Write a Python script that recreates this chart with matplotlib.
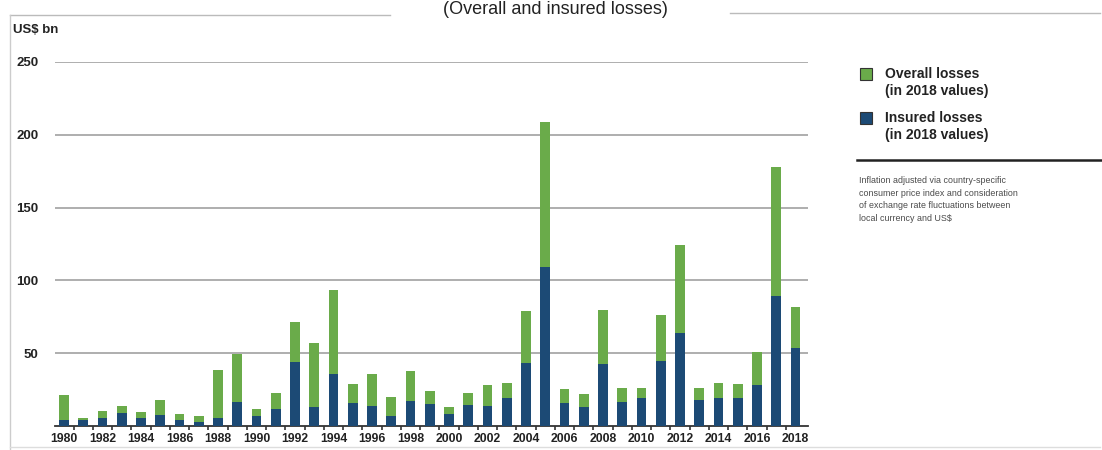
import matplotlib
matplotlib.use("Agg")
import matplotlib.pyplot as plt
from matplotlib.lines import Line2D
from matplotlib.patches import Rectangle

# Data (US$ bn, 2018 values)
years = list(range(1980, 2019))
overall_losses = [21, 5.5, 10, 14, 9.5, 18, 8, 7, 38.5, 49.5,
                  12, 23, 71.5, 57, 93.5, 29, 36, 20, 37.5, 24,
                  13, 23, 28.5, 29.5, 79, 209, 25.5, 22, 80, 26,
                  26, 76, 124, 26, 29.5, 29, 51, 178, 82]
insured_losses = [4, 4, 5.5, 9, 5.5, 7.5, 4, 3, 5.5, 16.5,
                  7, 12, 44, 13, 36, 16, 14, 7, 17, 15,
                  8, 14.5, 13.5, 19.5, 43.5, 109, 15.5, 13, 42.5, 16.5,
                  19, 44.5, 64, 18, 19.5, 19, 28.5, 89.5, 53.5]
y_ticks = [50, 100, 150, 200, 250]

green = "#6aab4a"
blue = "#1c4a75"

plt.rcParams['font.family'] = ['Liberation Sans', 'DejaVu Sans']

fig = plt.figure(figsize=(11.02, 4.5), dpi=100)
ax = fig.add_axes([55 / 1102, 24 / 450, 753 / 1102, 364 / 450])

x = list(range(len(years)))
ax.bar(x, overall_losses, width=0.5, color=green, zorder=3)
ax.bar(x, insured_losses, width=0.5, color=blue, zorder=4)

ax.set_xlim(-0.47, 38.65)
ax.set_ylim(0, 250)
ax.set_yticks(y_ticks)
ax.set_yticklabels([str(t) for t in y_ticks], fontsize=9.5, fontweight='bold', color='#222222')
for t in y_ticks:
    ax.axhline(t, color='#a8a8a8', lw=1.3, zorder=1)

ax.set_xticks(x[::2])
ax.set_xticklabels([str(y) for y in years[::2]], fontsize=8.8, fontweight='bold', color='#222222')
ax.set_xticks([i + 0.5 for i in x[:-1]], minor=True)
ax.tick_params(axis='x', which='major', length=0, pad=5)
ax.tick_params(axis='x', which='minor', length=3, width=1.2, color='#333333', direction='out')
ax.tick_params(axis='y', length=0, pad=12)
for s in ['top', 'right', 'left']:
    ax.spines[s].set_visible(False)
ax.spines['bottom'].set_color('#333333')
ax.spines['bottom'].set_linewidth(1.3)
ax.patch.set_alpha(0)

# unit label and title
fig.text(13 / 1102, 1 - 30 / 450, "US$ bn", fontsize=9.5, fontweight='bold', va='center', color='#222222')
fig.text(555 / 1102, 1 - 1 / 450, "(Overall and insured losses)", fontsize=13, ha='center', va='top', color='#222222')

# thin frame from the scanned page
fig.add_artist(Line2D([10 / 1102, 390 / 1102], [1 - 15 / 450] * 2, color='#bbbbbb', lw=1))
fig.add_artist(Line2D([730 / 1102, 1100 / 1102], [1 - 13 / 450] * 2, color='#bbbbbb', lw=1))
fig.add_artist(Line2D([10 / 1102] * 2, [1 - 15 / 450, 0], color='#cccccc', lw=1))
fig.add_artist(Line2D([10 / 1102, 1100 / 1102], [3 / 450] * 2, color='#dddddd', lw=1))

# legend
for ypx, col, lab in [(74, green, "Overall losses\n(in 2018 values)"),
                      (118, blue, "Insured losses\n(in 2018 values)")]:
    fig.add_artist(Rectangle((860 / 1102, 1 - (ypx + 6) / 450), 12 / 1102, 12 / 450,
                             facecolor=col, edgecolor='#333333', lw=0.8))
    fig.text(885 / 1102, 1 - (ypx - 7) / 450, lab, fontsize=10, fontweight='bold',
             va='top', color='#222222', linespacing=1.25)

fig.add_artist(Line2D([857 / 1102, 1102 / 1102], [1 - 160 / 450] * 2, color='#222222', lw=1.8))
fig.text(859 / 1102, 1 - 176 / 450,
         "Inflation adjusted via country-specific\n"
         "consumer price index and consideration\n"
         "of exchange rate fluctuations between\n"
         "local currency and US$",
         fontsize=6.4, va='top', color='#4a4a4a', linespacing=1.5)

fig.savefig("out.png", dpi=100)
